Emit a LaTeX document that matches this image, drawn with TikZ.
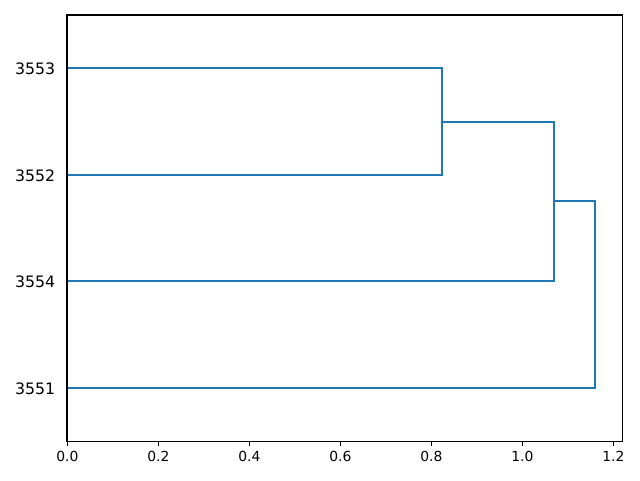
\documentclass[tikz,border=0pt]{standalone}
\usepackage{fontspec}
\setmainfont{DejaVu Sans}
\definecolor{mplblue}{HTML}{1F77B4}
\begin{document}
\begin{tikzpicture}[x=0.75pt,y=-0.75pt,
  link/.style={draw=mplblue,line width=1.5pt,line join=miter},
  spine/.style={draw=black,line width=0.8pt},
  xtl/.style={font=\fontsize{10.4}{12}\selectfont,anchor=north,inner sep=0pt},
  ytl/.style={font=\fontsize{11.8}{14}\selectfont,anchor=east,inner sep=0pt}]
\useasboundingbox (0,0) rectangle (640,480);
% leaves
\coordinate (l3553) at (67,68);
\coordinate (l3552) at (67,175);
\coordinate (l3554) at (67,281.3);
\coordinate (l3551) at (67,388);
% merges
\coordinate (a1) at (441.7,68);
\coordinate (a2) at (441.7,175);
\coordinate (am) at (441.7,121.5);
\coordinate (b1) at (553.7,121.5);
\coordinate (b2) at (553.7,281.3);
\coordinate (bm) at (553.7,201.4);
\coordinate (c1) at (595,201.4);
\coordinate (c2) at (595,388);
\draw[link] (l3553) -- (a1) -- (a2) -- (l3552);
\draw[link] (am) -- (b1) -- (b2) -- (l3554);
\draw[link] (bm) -- (c1) -- (c2) -- (l3551);
% axes
\draw[spine] (67,15) rectangle (622.3,441.3);
% y labels
\node[ytl] (y3553) at (55.5,68.5) {3553};
\node[ytl] (y3552) at (55.5,175.5) {3552};
\node[ytl] (y3554) at (55.5,281.8) {3554};
\node[ytl] (y3551) at (55.5,388.5) {3551};
% x ticks
\foreach \v/\px in {0.0/67.3,0.2/158.3,0.4/249.3,0.6/340.3,0.8/431.3,1.0/522.3,1.2/613.3}{
  \draw[spine] (\px,441.3) -- (\px,446.2);
  \node[xtl] at (\px,451) {\v};
}
\end{tikzpicture}
\end{document}
